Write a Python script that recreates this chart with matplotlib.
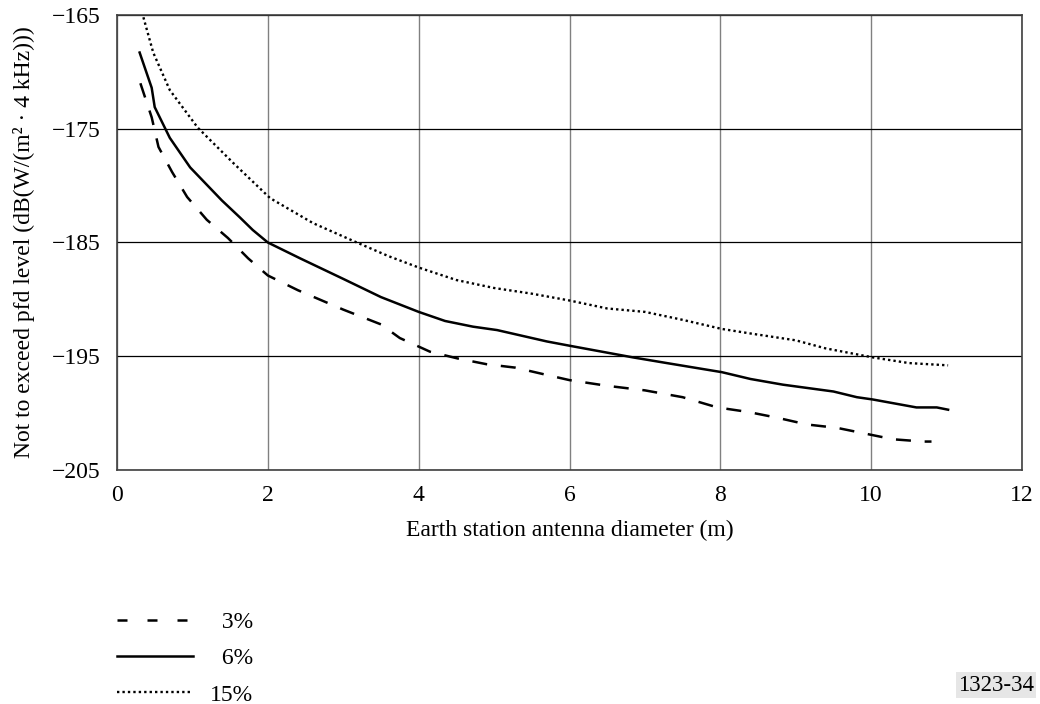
import matplotlib
matplotlib.use('Agg')
import matplotlib.pyplot as plt

plt.rcParams['font.family'] = ['Liberation Serif', 'DejaVu Serif']

# 3 % curve
x3 = [0.31, 0.46, 0.55, 0.73, 0.93, 1.19, 1.47, 1.74, 2.0, 2.4, 3.0, 3.5, 3.75, 4.15,
      4.52, 4.9, 5.28, 5.67, 6.0, 6.5, 7.0, 7.5, 7.96, 8.37, 8.75, 9.15, 9.55, 9.92,
      10.29, 10.69, 10.8]
y3 = [-171.0, -174.0, -176.6, -178.8, -181.0, -183.0, -184.6, -186.4, -187.9, -189.2,
      -190.9, -192.2, -193.4, -194.6, -195.2, -195.7, -196.0, -196.6, -197.1, -197.6,
      -198.0, -198.6, -199.5, -199.9, -200.4, -201.0, -201.3, -201.8, -202.3, -202.5,
      -202.5]

# 6 % curve
x6 = [0.3, 0.46, 0.5, 0.7, 0.97, 1.39, 1.63, 1.8, 2.0, 2.43, 3.0, 3.5, 4.0, 4.35,
      4.72, 5.04, 5.7, 6.02, 6.84, 7.29, 8.02, 8.4, 8.83, 9.5, 9.81, 10.02, 10.6,
      10.87, 11.02]
y6 = [-168.3, -171.4, -173.1, -175.8, -178.4, -181.3, -182.8, -183.9, -185.0, -186.4,
      -188.2, -189.8, -191.1, -191.9, -192.4, -192.7, -193.7, -194.1, -195.1, -195.6,
      -196.4, -197.0, -197.5, -198.1, -198.6, -198.8, -199.5, -199.5, -199.7]

# 15 % curve
x15 = [0.35, 0.48, 0.7, 1.07, 1.54, 2.03, 2.6, 3.18, 3.6, 4.0, 4.5, 5.0, 5.5, 6.0,
       6.5, 7.0, 7.5, 8.02, 8.4, 9.0, 9.39, 10.02, 10.5, 11.02]
y15 = [-165.2, -168.3, -171.6, -174.9, -178.0, -181.1, -183.3, -185.0, -186.2, -187.2,
       -188.3, -189.0, -189.5, -190.1, -190.8, -191.1, -191.8, -192.6, -193.0, -193.6,
       -194.3, -195.1, -195.6, -195.8]

# figure space in front of the short labels so they line up on the right
labels = ['\u20073%', '\u20076%', '15%']

fs = 17

fig = plt.figure(figsize=(10.4, 7.04), dpi=100)
ax = fig.add_axes([0.1125, 0.3324, 0.8702, 0.6463])

ax.plot(x3, y3, color='black', lw=1.8, dashes=(6, 5.5), label=labels[0])
ax.plot(x6, y6, color='black', lw=1.8, label=labels[1])
ax.plot(x15, y15, color='black', lw=1.7, dashes=(1, 1.3), label=labels[2])

ax.set_xlim(0, 12)
ax.set_ylim(-205, -165)
ax.set_xticks(range(0, 13, 2))
ax.set_yticks([-205, -195, -185, -175, -165])
ax.tick_params(axis='x', length=0, labelsize=fs, pad=11)
ax.tick_params(axis='y', length=0, labelsize=fs, pad=12)
ax.xaxis.grid(True, color='#808080', lw=1)
ax.yaxis.grid(True, color='black', lw=0.9)
for s in ax.spines.values():
    s.set_color('#404040')
    s.set_linewidth(1.2)

ax.set_xlabel('Earth station antenna diameter (m)', fontsize=fs, labelpad=10)
ax.set_ylabel('Not to exceed pfd level (dB(W/(m² · 4 kHz)))', fontsize=fs, labelpad=12)

leg = fig.legend(loc='upper left', bbox_to_anchor=(0.1125, 0.1316), frameon=False,
                 fontsize=fs, handlelength=3.2, labelspacing=0.63, handletextpad=0.72,
                 borderpad=0, borderaxespad=0)
leg.legend_handles[0].set_dashes((4, 8))

fig.text(0.994, 0.012, '1323-34', fontsize=16.5, ha='right', va='bottom',
         bbox=dict(facecolor='#e6e6e6', edgecolor='none', pad=1.5))

fig.savefig('out.png', dpi=100)
